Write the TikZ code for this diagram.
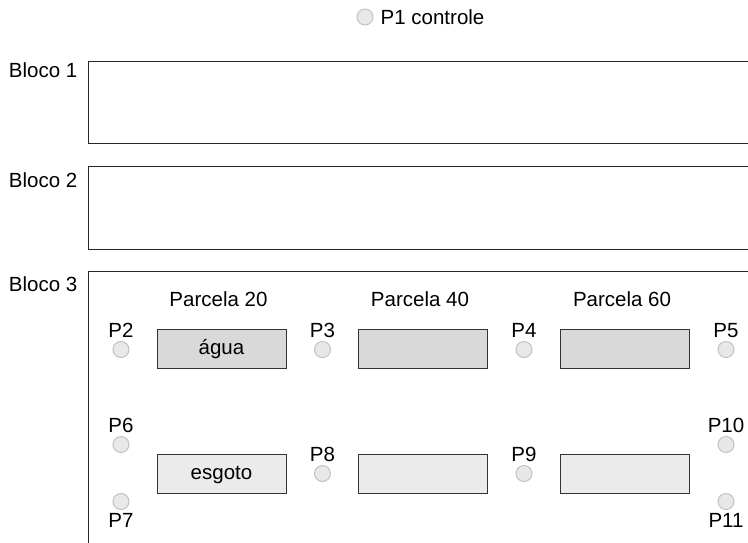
\documentclass[tikz,border=0pt]{standalone}
\usepackage{fontspec}
\setmainfont{Liberation Sans}

\definecolor{parcelaA}{HTML}{D9D9D9}
\definecolor{parcelaB}{HTML}{EBEBEB}
\definecolor{pontoF}{HTML}{E8E8E8}
\definecolor{pontoB}{HTML}{C2C2C2}

\begin{document}
\begin{tikzpicture}[x=1pt, y=-1pt,
  texto/.style={font=\fontsize{20.5}{24}\selectfont, inner sep=0pt},
  bloco/.style={draw=black!85, line width=1.2pt, anchor=north west, minimum width=700pt},
  parcela/.style={texto, draw=black!80, line width=1pt, minimum width=129pt, minimum height=39pt,
    text height=14pt, text depth=2pt},
  ponto/.style={circle, draw=pontoB, fill=pontoF, line width=1pt, minimum size=16pt, inner sep=0pt}]

% Moldura
\useasboundingbox (0,0) rectangle (748,542);
\clip (0,0) rectangle (748,542);

% Ponto de controle
\node[ponto, label={[texto, label distance=7pt]right:P1 controle}] (p1) at (365,17) {};

% Blocos
\node[bloco, minimum height=82pt] (b1) at (88,61) {};
\node[bloco, minimum height=83pt] (b2) at (88,166) {};
\node[bloco, minimum height=300pt] (b3) at (88,271) {};
\node[texto, anchor=east] (n1) at (77.5,70) {Bloco 1};
\node[texto, anchor=east] (n2) at (77.5,180) {Bloco 2};
\node[texto, anchor=east] (n3) at (77.5,284) {Bloco 3};

% Parcelas
\foreach \n/\x in {20/218.5, 40/420, 60/622}
  \node[texto] (t\n) at (\x,299.5) {Parcela \n};

\node[parcela, fill=parcelaA] (a20) at (221.5,348.5) {água};
\node[parcela, fill=parcelaA] (a40) at (423,348.5) {};
\node[parcela, fill=parcelaA] (a60) at (624.5,348.5) {};
\node[parcela, fill=parcelaB] (e20) at (221.5,473.5) {esgoto};
\node[parcela, fill=parcelaB] (e40) at (423,473.5) {};
\node[parcela, fill=parcelaB] (e60) at (624.5,473.5) {};

% Pontos de coleta
\foreach \i/\x/\y/\lado in {2/121/349.5/above, 3/322.5/349.5/above, 4/524/349.5/above,
    5/726/349.5/above, 6/121/444.5/above, 7/121/501.5/below, 8/322.5/473.5/above,
    9/524/473.5/above, 10/726/444.5/above, 11/726/501.5/below}
  \node[ponto, label={[texto, label distance=3pt]\lado:P\i}] (p\i) at (\x,\y) {};

\end{tikzpicture}
\end{document}
